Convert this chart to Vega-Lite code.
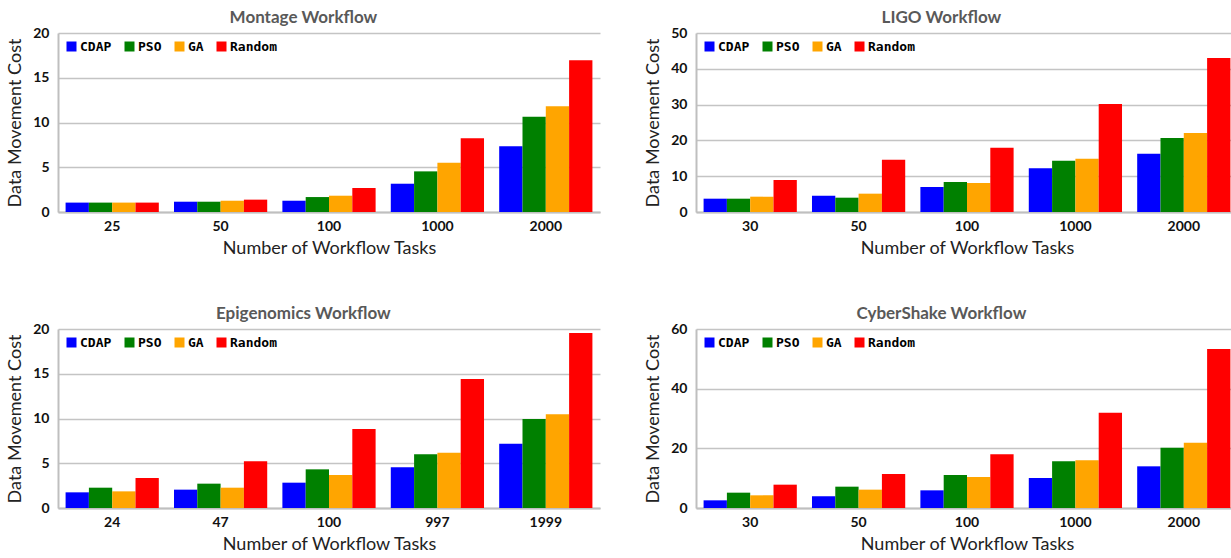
{
  "$schema": "https://vega.github.io/schema/vega-lite/v6.json",
  "background": "white",
  "padding": {"left": 6, "top": 9, "right": 0, "bottom": 0},
  "datasets": {
    "costs": [
      {"w": "Montage", "n": 25, "alg": "CDAP", "cost": 1.05},
      {"w": "Montage", "n": 25, "alg": "PSO", "cost": 1.05},
      {"w": "Montage", "n": 25, "alg": "GA", "cost": 1.05},
      {"w": "Montage", "n": 25, "alg": "Random", "cost": 1.05},
      {"w": "Montage", "n": 50, "alg": "CDAP", "cost": 1.15},
      {"w": "Montage", "n": 50, "alg": "PSO", "cost": 1.15},
      {"w": "Montage", "n": 50, "alg": "GA", "cost": 1.26},
      {"w": "Montage", "n": 50, "alg": "Random", "cost": 1.38},
      {"w": "Montage", "n": 100, "alg": "CDAP", "cost": 1.26},
      {"w": "Montage", "n": 100, "alg": "PSO", "cost": 1.67},
      {"w": "Montage", "n": 100, "alg": "GA", "cost": 1.82},
      {"w": "Montage", "n": 100, "alg": "Random", "cost": 2.68},
      {"w": "Montage", "n": 1000, "alg": "CDAP", "cost": 3.16},
      {"w": "Montage", "n": 1000, "alg": "PSO", "cost": 4.54},
      {"w": "Montage", "n": 1000, "alg": "GA", "cost": 5.5},
      {"w": "Montage", "n": 1000, "alg": "Random", "cost": 8.25},
      {"w": "Montage", "n": 2000, "alg": "CDAP", "cost": 7.36},
      {"w": "Montage", "n": 2000, "alg": "PSO", "cost": 10.63},
      {"w": "Montage", "n": 2000, "alg": "GA", "cost": 11.82},
      {"w": "Montage", "n": 2000, "alg": "Random", "cost": 16.95},
      {"w": "LIGO", "n": 30, "alg": "CDAP", "cost": 3.72},
      {"w": "LIGO", "n": 30, "alg": "PSO", "cost": 3.72},
      {"w": "LIGO", "n": 30, "alg": "GA", "cost": 4.28},
      {"w": "LIGO", "n": 30, "alg": "Random", "cost": 8.94},
      {"w": "LIGO", "n": 50, "alg": "CDAP", "cost": 4.56},
      {"w": "LIGO", "n": 50, "alg": "PSO", "cost": 4.0},
      {"w": "LIGO", "n": 50, "alg": "GA", "cost": 5.12},
      {"w": "LIGO", "n": 50, "alg": "Random", "cost": 14.6},
      {"w": "LIGO", "n": 100, "alg": "CDAP", "cost": 6.98},
      {"w": "LIGO", "n": 100, "alg": "PSO", "cost": 8.38},
      {"w": "LIGO", "n": 100, "alg": "GA", "cost": 8.1},
      {"w": "LIGO", "n": 100, "alg": "Random", "cost": 17.97},
      {"w": "LIGO", "n": 1000, "alg": "CDAP", "cost": 12.2},
      {"w": "LIGO", "n": 1000, "alg": "PSO", "cost": 14.34},
      {"w": "LIGO", "n": 1000, "alg": "GA", "cost": 14.9},
      {"w": "LIGO", "n": 1000, "alg": "Random", "cost": 30.17},
      {"w": "LIGO", "n": 2000, "alg": "CDAP", "cost": 16.3},
      {"w": "LIGO", "n": 2000, "alg": "PSO", "cost": 20.67},
      {"w": "LIGO", "n": 2000, "alg": "GA", "cost": 22.07},
      {"w": "LIGO", "n": 2000, "alg": "Random", "cost": 43.0},
      {"w": "Epigenomics", "n": 24, "alg": "CDAP", "cost": 1.75},
      {"w": "Epigenomics", "n": 24, "alg": "PSO", "cost": 2.27},
      {"w": "Epigenomics", "n": 24, "alg": "GA", "cost": 1.86},
      {"w": "Epigenomics", "n": 24, "alg": "Random", "cost": 3.35},
      {"w": "Epigenomics", "n": 47, "alg": "CDAP", "cost": 2.05},
      {"w": "Epigenomics", "n": 47, "alg": "PSO", "cost": 2.72},
      {"w": "Epigenomics", "n": 47, "alg": "GA", "cost": 2.27},
      {"w": "Epigenomics", "n": 47, "alg": "Random", "cost": 5.21},
      {"w": "Epigenomics", "n": 100, "alg": "CDAP", "cost": 2.83},
      {"w": "Epigenomics", "n": 100, "alg": "PSO", "cost": 4.32},
      {"w": "Epigenomics", "n": 100, "alg": "GA", "cost": 3.69},
      {"w": "Epigenomics", "n": 100, "alg": "Random", "cost": 8.83},
      {"w": "Epigenomics", "n": 997, "alg": "CDAP", "cost": 4.54},
      {"w": "Epigenomics", "n": 997, "alg": "PSO", "cost": 6.0},
      {"w": "Epigenomics", "n": 997, "alg": "GA", "cost": 6.18},
      {"w": "Epigenomics", "n": 997, "alg": "Random", "cost": 14.41},
      {"w": "Epigenomics", "n": 1999, "alg": "CDAP", "cost": 7.19},
      {"w": "Epigenomics", "n": 1999, "alg": "PSO", "cost": 9.94},
      {"w": "Epigenomics", "n": 1999, "alg": "GA", "cost": 10.47},
      {"w": "Epigenomics", "n": 1999, "alg": "Random", "cost": 19.55},
      {"w": "CyberShake", "n": 30, "alg": "CDAP", "cost": 2.57},
      {"w": "CyberShake", "n": 30, "alg": "PSO", "cost": 5.14},
      {"w": "CyberShake", "n": 30, "alg": "GA", "cost": 4.25},
      {"w": "CyberShake", "n": 30, "alg": "Random", "cost": 7.82},
      {"w": "CyberShake", "n": 50, "alg": "CDAP", "cost": 3.91},
      {"w": "CyberShake", "n": 50, "alg": "PSO", "cost": 7.15},
      {"w": "CyberShake", "n": 50, "alg": "GA", "cost": 6.15},
      {"w": "CyberShake", "n": 50, "alg": "Random", "cost": 11.4},
      {"w": "CyberShake", "n": 100, "alg": "CDAP", "cost": 5.92},
      {"w": "CyberShake", "n": 100, "alg": "PSO", "cost": 11.06},
      {"w": "CyberShake", "n": 100, "alg": "GA", "cost": 10.39},
      {"w": "CyberShake", "n": 100, "alg": "Random", "cost": 17.99},
      {"w": "CyberShake", "n": 1000, "alg": "CDAP", "cost": 10.06},
      {"w": "CyberShake", "n": 1000, "alg": "PSO", "cost": 15.64},
      {"w": "CyberShake", "n": 1000, "alg": "GA", "cost": 15.98},
      {"w": "CyberShake", "n": 1000, "alg": "Random", "cost": 31.96},
      {"w": "CyberShake", "n": 2000, "alg": "CDAP", "cost": 13.97},
      {"w": "CyberShake", "n": 2000, "alg": "PSO", "cost": 20.22},
      {"w": "CyberShake", "n": 2000, "alg": "GA", "cost": 21.9},
      {"w": "CyberShake", "n": 2000, "alg": "Random", "cost": 53.3}
    ]
  },
  "data": {"name": "costs"},
  "columns": 2,
  "spacing": {"row": 48, "column": 44},
  "resolve": {"scale": {"x": "independent", "y": "independent", "xOffset": "independent", "color": "independent"}},
  "concat": [
    {
      "title": "Montage Workflow",
      "transform": [{"filter": "datum.w == 'Montage'"}],
      "width": 542, "height": 179,
      "mark": "bar",
      "encoding": {
        "x": {"field": "n", "type": "ordinal", "scale": {"paddingInner": 0.14, "paddingOuter": 0.07}, "axis": {"title": "Number of Workflow Tasks"}},
        "xOffset": {"field": "alg", "type": "nominal", "sort": ["CDAP", "PSO", "GA", "Random"], "scale": {"paddingInner": 0, "paddingOuter": 0}},
        "y": {"field": "cost", "type": "quantitative", "scale": {"domain": [0, 20]}, "axis": {"values": [0, 5, 10, 15, 20], "title": "Data Movement Cost"}},
        "color": {"field": "alg", "type": "nominal", "scale": {"domain": ["CDAP", "PSO", "GA", "Random"], "range": ["#0000ff", "#008000", "#ffa500", "#ff0000"]}}
      }
    },
    {
      "title": "LIGO Workflow",
      "transform": [{"filter": "datum.w == 'LIGO'"}],
      "width": 542, "height": 179,
      "mark": "bar",
      "encoding": {
        "x": {"field": "n", "type": "ordinal", "scale": {"paddingInner": 0.14, "paddingOuter": 0.07}, "axis": {"title": "Number of Workflow Tasks"}},
        "xOffset": {"field": "alg", "type": "nominal", "sort": ["CDAP", "PSO", "GA", "Random"], "scale": {"paddingInner": 0, "paddingOuter": 0}},
        "y": {"field": "cost", "type": "quantitative", "scale": {"domain": [0, 50]}, "axis": {"values": [0, 10, 20, 30, 40, 50], "title": "Data Movement Cost"}},
        "color": {"field": "alg", "type": "nominal", "scale": {"domain": ["CDAP", "PSO", "GA", "Random"], "range": ["#0000ff", "#008000", "#ffa500", "#ff0000"]}}
      }
    },
    {
      "title": "Epigenomics Workflow",
      "transform": [{"filter": "datum.w == 'Epigenomics'"}],
      "width": 542, "height": 179,
      "mark": "bar",
      "encoding": {
        "x": {"field": "n", "type": "ordinal", "scale": {"paddingInner": 0.14, "paddingOuter": 0.07}, "axis": {"title": "Number of Workflow Tasks"}},
        "xOffset": {"field": "alg", "type": "nominal", "sort": ["CDAP", "PSO", "GA", "Random"], "scale": {"paddingInner": 0, "paddingOuter": 0}},
        "y": {"field": "cost", "type": "quantitative", "scale": {"domain": [0, 20]}, "axis": {"values": [0, 5, 10, 15, 20], "title": "Data Movement Cost"}},
        "color": {"field": "alg", "type": "nominal", "scale": {"domain": ["CDAP", "PSO", "GA", "Random"], "range": ["#0000ff", "#008000", "#ffa500", "#ff0000"]}}
      }
    },
    {
      "title": "CyberShake Workflow",
      "transform": [{"filter": "datum.w == 'CyberShake'"}],
      "width": 542, "height": 179,
      "mark": "bar",
      "encoding": {
        "x": {"field": "n", "type": "ordinal", "scale": {"paddingInner": 0.14, "paddingOuter": 0.07}, "axis": {"title": "Number of Workflow Tasks"}},
        "xOffset": {"field": "alg", "type": "nominal", "sort": ["CDAP", "PSO", "GA", "Random"], "scale": {"paddingInner": 0, "paddingOuter": 0}},
        "y": {"field": "cost", "type": "quantitative", "scale": {"domain": [0, 60]}, "axis": {"values": [0, 20, 40, 60], "title": "Data Movement Cost"}},
        "color": {"field": "alg", "type": "nominal", "scale": {"domain": ["CDAP", "PSO", "GA", "Random"], "range": ["#0000ff", "#008000", "#ffa500", "#ff0000"]}}
      }
    }
  ],
  "config": {
    "view": {"stroke": null},
    "bar": {"stroke": null},
    "title": {"font": "Lato", "fontSize": 17, "fontWeight": "bold", "color": "#595959", "anchor": "middle", "frame": "bounds", "offset": -1.3},
    "axis": {
      "labelFont": "Lato", "labelFontWeight": "bold", "labelFontSize": 14, "labelColor": "#111111",
      "titleFont": "Lato", "titleFontWeight": "normal", "titleFontSize": 18, "titleColor": "#222222",
      "ticks": false, "domainColor": "#bfbfbf", "domainWidth": 2, "gridColor": "#c4c4c4", "gridWidth": 1.5
    },
    "axisX": {"labelAngle": 0, "labelPadding": 7, "titlePadding": 6, "grid": false},
    "axisY": {"labelPadding": 9, "titlePadding": 8, "grid": true},
    "legend": {
      "orient": "top-left", "direction": "horizontal", "title": null, "offset": 7, "padding": 0,
      "symbolType": "square", "symbolSize": 100, "symbolStrokeWidth": 0, "symbolOpacity": 1, "gridAlign": "none",
      "labelFont": "DejaVu Sans Mono", "labelFontWeight": "bold", "labelFontSize": 13, "labelOffset": 2, "columnPadding": 11
    }
  }
}
